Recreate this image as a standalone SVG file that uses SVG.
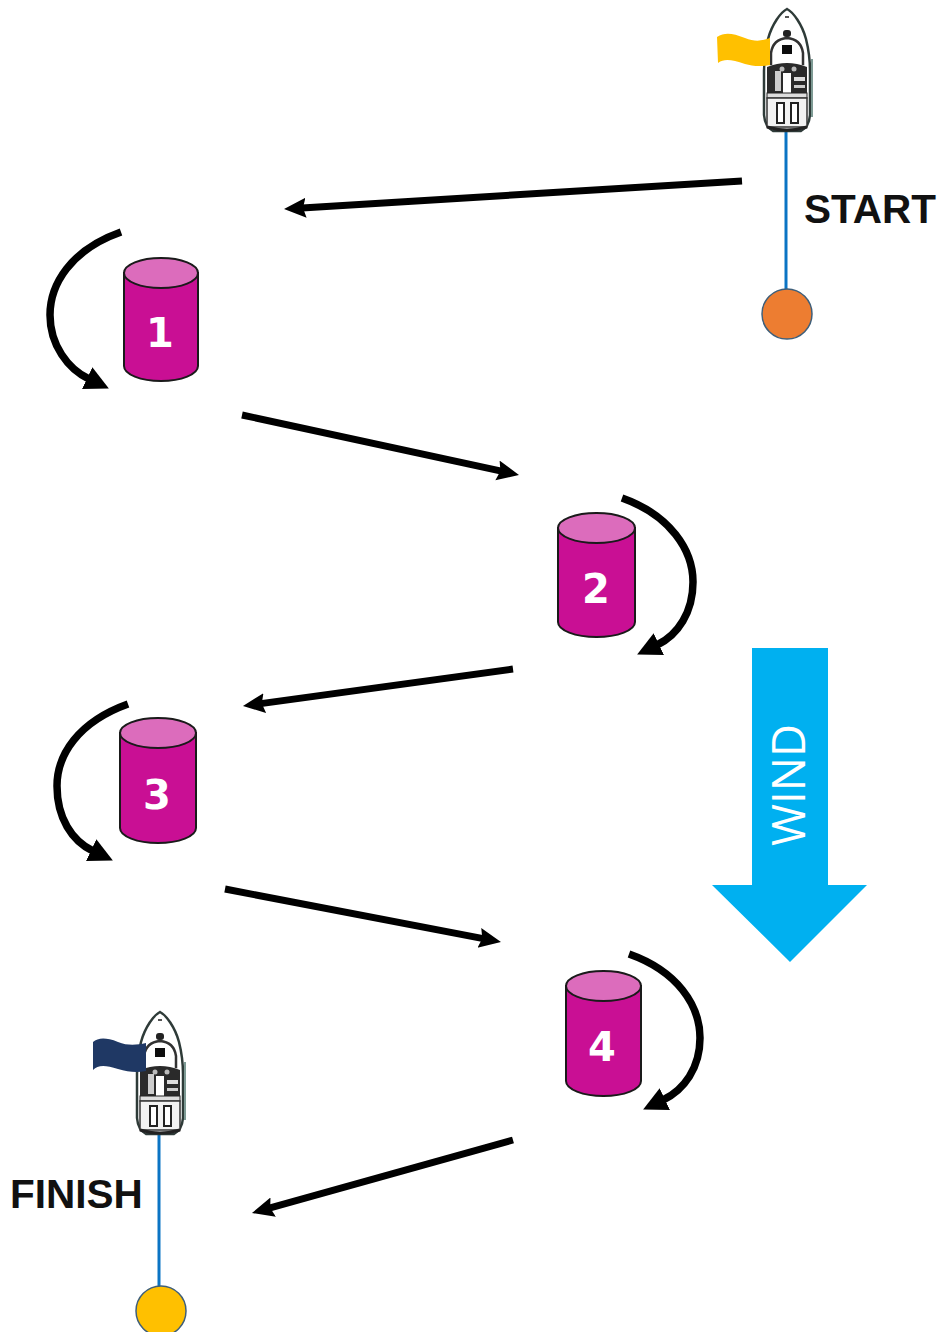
<svg xmlns="http://www.w3.org/2000/svg" width="942" height="1332" viewBox="0 0 942 1332">
<style>
.conn{fill:none;stroke:#000;stroke-width:7;marker-end:url(#head)}
.curve{fill:none;stroke:#000;stroke-width:7.500;marker-end:url(#head2)}
.body{fill:#c90f94;stroke:#1a1a1a;stroke-width:2}
.top{fill:#dc6cbc;stroke:#1a1a1a;stroke-width:2}
.num{font-family:"DejaVu Sans","Liberation Sans",sans-serif;font-weight:700;font-size:40px;fill:#fff;text-anchor:middle}
.lbl{font-family:"Liberation Sans",Arial,sans-serif;font-weight:700;font-size:40.500px;fill:#111}
.pole{stroke:#0b74c4;stroke-width:3;fill:none}
.ball{stroke:#3f5f7a;stroke-width:1.500}
</style>
<defs>
<filter id="soft" x="-10%" y="-10%" width="120%" height="120%"><feGaussianBlur stdDeviation="0.6"/></filter>
<marker id="head" markerUnits="userSpaceOnUse" markerWidth="28" markerHeight="24" refX="4" refY="10" orient="auto"><path d="M0,0 L22,10 L0,20 L3,10Z" fill="#000"/></marker>
<marker id="head2" markerUnits="userSpaceOnUse" markerWidth="30" markerHeight="28" refX="2" refY="12" orient="auto"><path d="M0,0 L24,12 L0,24Z" fill="#000"/></marker>
<g id="boat" filter="url(#soft)">
<path d="M0,0 C6,3 15,15 19,30 C21,38 23,50 23,62 L23,106 Q22,118 14,122 L-14,122 Q-22,118 -23,106 L-23,62 C-23,50 -21,38 -19,30 C-15,15 -6,3 0,0Z" fill="#fff" stroke="#2f3b39" stroke-width="2.500"/>
<path d="M25,50 L25,108" stroke="#7d9a94" stroke-width="2"/>
<path d="M-2,8 h4" stroke="#555" stroke-width="2"/>
<rect x="-4" y="21" width="8" height="7" rx="3" fill="#222"/>
<path d="M-16,56 L-16,44 Q-14,30 0,29 Q14,30 16,44 L16,56" fill="#fff" stroke="#333" stroke-width="2.500"/>
<rect x="-5" y="36" width="10" height="9" fill="#111"/>
<path d="M-20,58 Q0,50 20,58 L20,84 L-20,84Z" fill="#2a2a2a"/>
<rect x="-12" y="62" width="6" height="20" fill="#ccc"/>
<rect x="-4" y="64" width="8" height="20" fill="#fff"/>
<rect x="7" y="68" width="11" height="4" fill="#ddd"/>
<rect x="7" y="76" width="11" height="3" fill="#ccc"/>
<circle cx="-5" cy="60" r="2.500" fill="#bbb"/>
<circle cx="7" cy="60" r="2.500" fill="#bbb"/>
<rect x="-20" y="84" width="40" height="5" fill="#ddd" stroke="#222"/>
<rect x="-20" y="89" width="40" height="29" fill="#f2f2f2" stroke="#333" stroke-width="1.500"/>
<rect x="-10" y="94" width="7" height="20" fill="#fff" stroke="#222" stroke-width="2"/>
<rect x="4" y="94" width="7" height="20" fill="#fff" stroke="#222" stroke-width="2"/>
<path d="M-20,118 Q0,124 20,118" fill="none" stroke="#222" stroke-width="3"/>
</g>
</defs>

<g id="connectors">
<path class="conn" d="M742,181 L302,208"/>
<path class="curve" d="M121,232 C70,250 50,285 50,315 C50,345 68,369 89,379"/>
<path class="conn" d="M242,415 L501.400,471.200"/>
<path class="curve" d="M622,498 C670,515 693,550 693,582 C693,612 678,635 657,645"/>
<path class="conn" d="M513,669 L260.800,703.600"/>
<path class="curve" d="M128,704 C78,722 57,755 57,786 C57,818 72,841 93,851"/>
<path class="conn" d="M225,889 L483.300,938.600"/>
<path class="curve" d="M629,954 C677,971 700,1005 700,1038 C700,1068 684,1090 663,1100"/>
<path class="conn" d="M513,1140 L269.300,1208.200"/>
</g>

<g id="start">
<line class="pole" x1="786" y1="130" x2="786" y2="292"/>
<circle class="ball" cx="787" cy="314" r="25" fill="#ed7d31"/>
<use href="#boat" x="787" y="9"/>
<path d="M717,37 C725,32 732,33 745,38 C755,42 762,41 770,38 L770,65 C760,67 752,66 745,64 C732,60 725,58 718,63Z" fill="#ffc000"/>
<text class="lbl" x="804" y="223">START</text>
</g>

<g id="finish">
<line class="pole" x1="159" y1="1135" x2="159" y2="1290"/>
<circle class="ball" cx="161" cy="1311" r="25" fill="#ffc000"/>
<use href="#boat" x="160" y="1012"/>
<path d="M93,1042 C98,1038 105,1037 118,1042 C128,1046 137,1045 146,1043 L146,1071 C137,1073 128,1072 118,1069 C105,1065 98,1065 93,1070Z" fill="#1f3864"/>
<text class="lbl" x="10" y="1208">FINISH</text>
</g>

<g id="mark1">
<path class="body" d="M124,273 V366 A37,15 0 0 0 198,366 V273Z"/>
<ellipse class="top" cx="161" cy="273" rx="37" ry="15"/>
<text class="num" x="160" y="347">1</text>
</g>
<g id="mark2">
<path class="body" d="M558,528 V622 A38.500,15 0 0 0 635,622 V528Z"/>
<ellipse class="top" cx="596.500" cy="528" rx="38.500" ry="15"/>
<text class="num" x="596" y="603">2</text>
</g>
<g id="mark3">
<path class="body" d="M120,733 V828 A38,15 0 0 0 196,828 V733Z"/>
<ellipse class="top" cx="158" cy="733" rx="38" ry="15"/>
<text class="num" x="157" y="809">3</text>
</g>
<g id="mark4">
<path class="body" d="M566,986 V1081 A37.500,15 0 0 0 641,1081 V986Z"/>
<ellipse class="top" cx="603.500" cy="986" rx="37.500" ry="15"/>
<text class="num" x="602" y="1061">4</text>
</g>

<g id="wind">
<polygon points="752,648 828,648 828,885 867,885 790,962 712,885 752,885" fill="#00b0f0"/>
<text transform="translate(805,846) rotate(-90)" font-family="'Open Sans','Liberation Sans',sans-serif" font-size="45.500" fill="#fff">WIND</text>
</g>
</svg>
